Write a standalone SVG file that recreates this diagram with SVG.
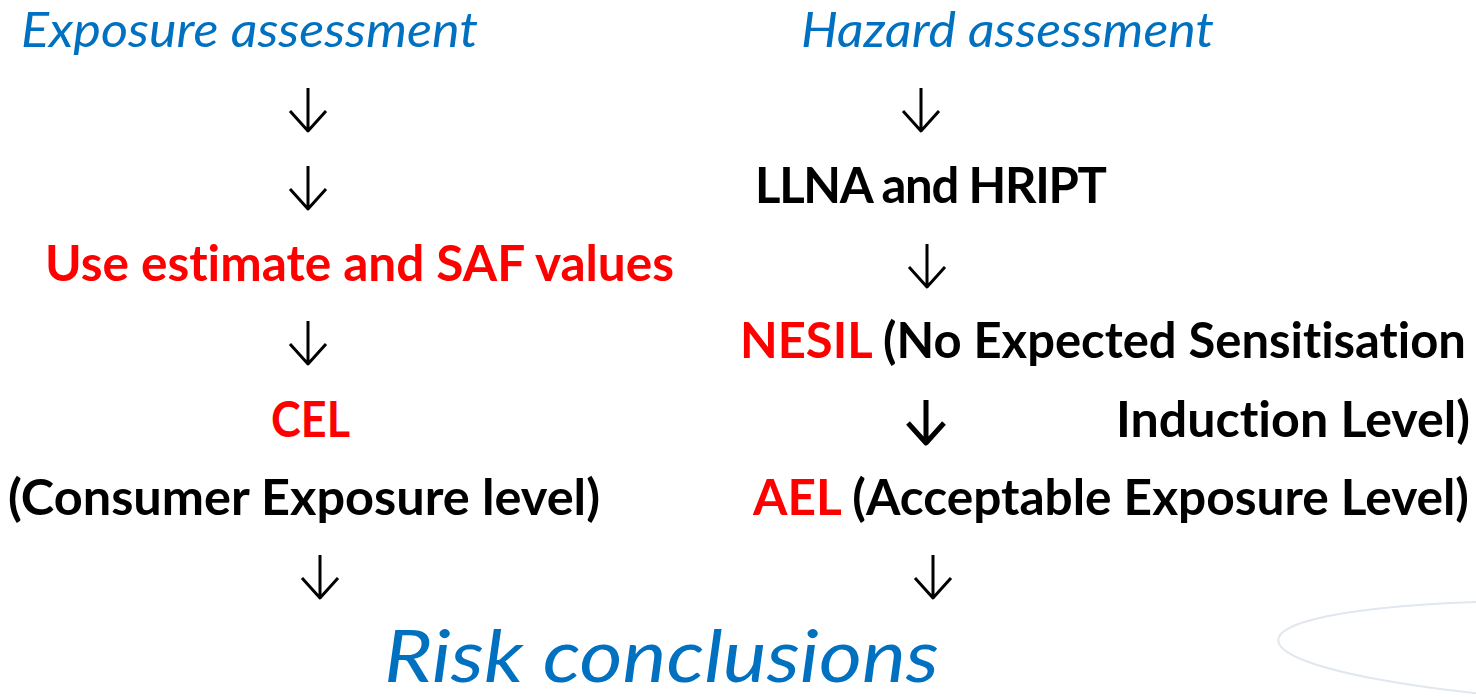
<svg xmlns="http://www.w3.org/2000/svg" width="1476" height="697" viewBox="0 0 1476 697">
  <style>
    text { font-variant-ligatures: none; font-feature-settings: "liga" 0, "clig" 0; }
    .head { font-family: "Lato", "Open Sans", sans-serif; font-style: italic; fill: #0070C0; }
    .step { font-family: "Lato", "Open Sans", sans-serif; font-weight: bold; font-size: 49px; fill: #000000; }
    .key { fill: #FF0000; }
    .arrow { fill: none; stroke: #000000; stroke-width: 3; stroke-linejoin: round; stroke-linecap: butt; }
    .arrow.bold { stroke-width: 5; }
  </style>
  <defs>
    <!-- down arrow: shaft 43 long, arms 18 wide and 20 high, tip at origin -->
    <path id="down" d="M0,-43 V0 M-18,-20 L0,0 L18,-20"/>
  </defs>

  <rect width="1476" height="697" fill="#ffffff"/>

  <!-- faint decorative ring, bottom right -->
  <ellipse cx="1618" cy="653" rx="340" ry="50" transform="rotate(2.2 1618 653)" fill="none" stroke="#e1e7ef" stroke-width="2"/>

  <g id="exposure-assessment">
    <text class="head" x="21" y="47" font-size="48" textLength="457" lengthAdjust="spacingAndGlyphs">Exposure assessment</text>
  </g>
  <g id="hazard-assessment">
    <text class="head" x="801" y="47" font-size="48" textLength="413" lengthAdjust="spacingAndGlyphs">Hazard assessment</text>
  </g>
  <g id="llna-hript">
    <text class="step" x="755" y="203" textLength="352" lengthAdjust="spacing">LLNA and HRIPT</text>
  </g>
  <g id="saf-values">
    <text class="step key" x="45" y="281" textLength="629" lengthAdjust="spacingAndGlyphs">Use estimate and SAF values</text>
  </g>
  <g id="nesil">
    <text class="step" x="740" y="358" textLength="726" lengthAdjust="spacingAndGlyphs"><tspan class="key">NESIL</tspan> (No Expected Sensitisation</text>
    <text class="step" x="1116" y="437" textLength="354" lengthAdjust="spacingAndGlyphs">Induction Level)</text>
  </g>
  <g id="cel">
    <text class="step key" x="271" y="437" textLength="79" lengthAdjust="spacingAndGlyphs">CEL</text>
    <text class="step" x="8" y="515" textLength="592" lengthAdjust="spacingAndGlyphs">(Consumer Exposure level)</text>
  </g>
  <g id="ael">
    <text class="step" x="753" y="515" textLength="716" lengthAdjust="spacingAndGlyphs"><tspan class="key">AEL</tspan> (Acceptable Exposure Level)</text>
  </g>
  <g id="risk-conclusions">
    <text class="head" x="384" y="682" font-size="72" textLength="555" lengthAdjust="spacingAndGlyphs">Risk conclusions</text>
  </g>

  <g id="connectors">
    <use href="#down" class="arrow" x="308" y="131"/>
    <use href="#down" class="arrow" x="308" y="209"/>
    <use href="#down" class="arrow" x="308" y="364"/>
    <use href="#down" class="arrow" x="320" y="598"/>
    <use href="#down" class="arrow" x="921" y="131"/>
    <use href="#down" class="arrow" x="927" y="287"/>
    <use href="#down" class="arrow bold" x="926" y="443"/>
    <use href="#down" class="arrow" x="933" y="598"/>
  </g>
</svg>
